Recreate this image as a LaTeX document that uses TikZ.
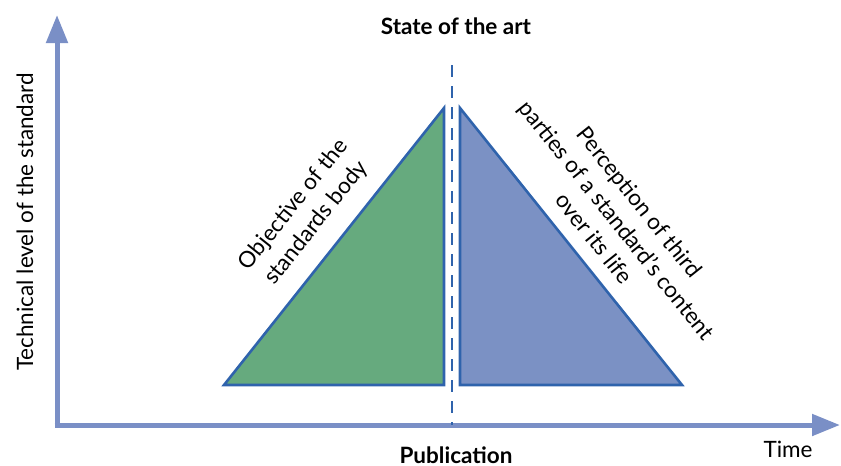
\documentclass[tikz,border=0pt]{standalone}
\usepackage{fontspec}
\setmainfont{Lato}
\usetikzlibrary{arrows.meta}

\definecolor{axisblue}{HTML}{7A8FC6}
\definecolor{edgeblue}{HTML}{2F63AC}
\definecolor{objgreen}{HTML}{66AA7E}
\definecolor{percblue}{HTML}{7B91C4}

\begin{document}
\begin{tikzpicture}[x=1pt, y=-1pt,
		axis/.style={line width=5pt, draw=axisblue, -{Triangle[length=28pt, width=21pt]}},
		wedge/.style={line width=2.6pt, draw=edgeblue, line join=miter},
		label/.style={font=\fontsize{22.5}{29}\selectfont, align=center},
		heading/.style={font=\fontsize{22.5}{29}\selectfont\bfseries}]
			\useasboundingbox (0, 0) rectangle (841, 466);
			% axes
			\coordinate (origin) at (57, 425);
			\coordinate (ytop) at (57, 15);
			\coordinate (xend) at (840, 425);
			\draw[axis] ([yshift=2.5pt]origin) -- (ytop);
			\draw[axis] ([xshift=-2.5pt]origin) -- (xend);
			% the two triangles either side of the publication date
			\filldraw[wedge, fill=objgreen] (224, 385) -- (444, 108) -- (444, 385) -- cycle;
			\filldraw[wedge, fill=percblue] (460, 108) -- (460, 385) -- (682, 385) -- cycle;
			% publication date
			\coordinate (pubtop) at (452, 65);
			\coordinate (pubfoot) at (452, 425);
			\draw[edgeblue, line width=2.8pt, dash pattern=on 12pt off 9pt] (pubtop) -- (pubfoot);
			% labels
			\node[heading, anchor=base] (art) at (456, 34) {State of the art};
			\node[heading, anchor=base, inner sep=0pt] (pub) at (456, 463) {Publication};
			\node[label, anchor=base] (time) at (788, 457) {Time};
			\node[label, rotate=90] (level) at (25, 222) {Technical level of the standard};
			\node[label, rotate=51.5] (objective) at (305, 214) {Objective of the\\standards body};
			\node[label, rotate=-51.5] (perception) at (617, 220) {Perception of third\\parties of a standard’s content\\over its life};
		\end{tikzpicture}
\end{document}
